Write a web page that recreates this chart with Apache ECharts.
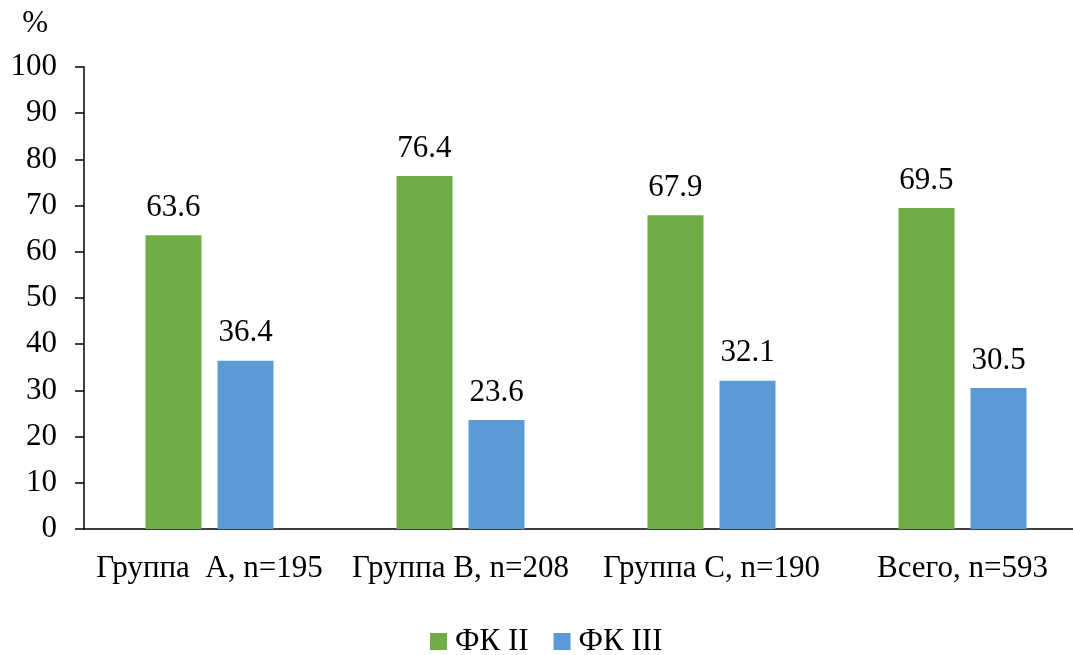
<!DOCTYPE html>
<html>
<head>
<meta charset="utf-8">
<script src="https://cdn.jsdelivr.net/npm/echarts@6/dist/echarts.min.js"></script>
<style>
  html, body { margin: 0; padding: 0; background: #fff; }
  #chart { width: 1073px; height: 655px; }
</style>
</head>
<body>
<div id="chart"></div>
<script>
// Groups of patients and share (%) of each functional class
const categories = ['Группа  A, n=195', 'Группа B, n=208', 'Группа C, n=190', 'Всего, n=593'];
const fk2 = [63.6, 76.4, 67.9, 69.5];
const fk3 = [36.4, 23.6, 32.1, 30.5];
const seriesNames = ['ФК II', 'ФК III'];

const FONT = 'Times New Roman, Liberation Serif, serif';
const FS = 31;

const chart = echarts.init(document.getElementById('chart'));

const labelStyle = {
  show: true,
  position: 'top',
  distance: 12,
  color: '#000',
  fontFamily: FONT,
  fontSize: FS,
  formatter: p => p.value.toFixed(1)
};

chart.setOption({
  animation: false,
  backgroundColor: '#fff',
  textStyle: { fontFamily: FONT },
  legend: {
    top: 621,
    left: 425,
    itemWidth: 17,
    itemHeight: 17,
    itemGap: 25,
    icon: 'rect',
    textStyle: { fontFamily: FONT, fontSize: FS, color: '#000', padding: [0, 0, 0, 3] },
    data: seriesNames
  },
  // the plot runs a little past the right edge of the canvas
  grid: { left: 84, width: 1004, top: 67, height: 462, containLabel: false, outerBoundsMode: 'none' },
  xAxis: {
    type: 'category',
    data: categories,
    axisLine: { lineStyle: { color: '#000', width: 1.5 } },
    axisTick: { show: false },
    axisLabel: { color: '#000', fontFamily: FONT, fontSize: FS, margin: 24, interval: 0 }
  },
  yAxis: {
    type: 'value',
    min: 0,
    max: 100,
    interval: 10,
    name: '%',
    nameLocation: 'end',
    nameGap: 28,
    nameTextStyle: { color: '#000', fontFamily: FONT, fontSize: FS, align: 'right', padding: [0, 36, 0, 0] },
    axisLine: { show: true, lineStyle: { color: '#000', width: 1.5 } },
    axisTick: { show: true, length: 9, lineStyle: { color: '#000', width: 1.5 } },
    splitLine: { show: false },
    axisLabel: { color: '#000', fontFamily: FONT, fontSize: FS, margin: 27 }
  },
  series: [
    {
      name: seriesNames[0],
      type: 'bar',
      data: fk2,
      barWidth: 56,
      barGap: '28.6%',
      itemStyle: { color: '#70AD47' },
      label: labelStyle
    },
    {
      name: seriesNames[1],
      type: 'bar',
      data: fk3,
      barWidth: 56,
      barGap: '28.6%',
      itemStyle: { color: '#5B9BD5' },
      label: labelStyle
    }
  ]
});
</script>
</body>
</html>
